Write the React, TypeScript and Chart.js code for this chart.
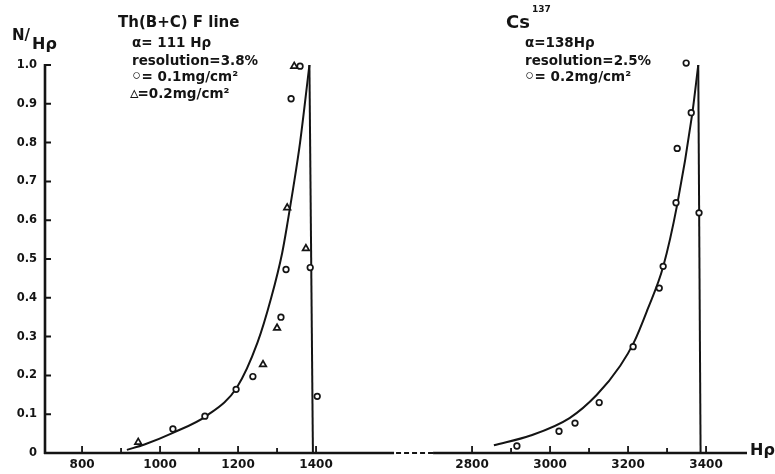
import { useEffect, useRef } from 'react';
import { Chart, registerables } from 'chart.js';

Chart.register(...registerables);

// ---- data (real Hρ values) ----
const thCurveH = [915, 960, 1033, 1121, 1197, 1250, 1285, 1313, 1328, 1341, 1359, 1383];
const thCurveN = [0.008, 0.022, 0.052, 0.097, 0.169, 0.285, 0.4, 0.515, 0.6, 0.68, 0.8, 1.0];
const thEdgeH = [1383, 1392];
const thEdgeN = [1.0, 0];
const thCircleH = [1033, 1115, 1195, 1238, 1310, 1323, 1336, 1359, 1385, 1403];
const thCircleN = [0.062, 0.095, 0.164, 0.197, 0.35, 0.473, 0.913, 0.997, 0.478, 0.146];
const thTriangleH = [944, 1264, 1300, 1326, 1374, 1344];
const thTriangleN = [0.028, 0.228, 0.322, 0.632, 0.527, 0.997];

const csCurveH = [2856, 2950, 3050, 3120, 3180, 3215, 3250, 3290, 3326, 3364, 3380];
const csCurveN = [0.02, 0.045, 0.09, 0.15, 0.225, 0.285, 0.37, 0.48, 0.64, 0.87, 1.0];
const csEdgeH = [3380, 3386];
const csEdgeN = [1.0, 0];
const csCircleH = [2915, 3023, 3064, 3126, 3213, 3280, 3290, 3323, 3326, 3362, 3349, 3382];
const csCircleN = [0.018, 0.056, 0.077, 0.13, 0.274, 0.425, 0.481, 0.645, 0.785, 0.877, 1.005, 0.619];

const xMajorTicks = [800, 1000, 1200, 1400, 2800, 3000, 3200, 3400];
const xMinorTicks = [900, 1100, 1300, 2900, 3100, 3300];
const xAxisStart = 705;
const xAxisEnd = 3505;
const breakFrom = 1600;
const breakTo = 2700;
const axisShift = 1000;

// [symbol, text]
const leftNotes = [['', 'α= 111 Hρ'], ['', 'resolution=3.8%'], ['◦', '= 0.1mg/cm²'], ['▵', '=0.2mg/cm²']];
const leftTitle = 'Th(B+C) F line';
const rightTitle = 'Cs';
const rightTitleSup = '137';
const rightNotes = [['', 'α=138Hρ'], ['', 'resolution=2.5%'], ['◦', '= 0.2mg/cm²']];
const yTitleA = 'N/';
const yTitleB = 'Hρ';
const xTitle = 'Hρ';

const INK = '#141414';
const FONT = '"DejaVu Sans", sans-serif';

const toAxis = (h: number) => (h > 2000 ? h - axisShift : h);
const fromAxis = (v: number) => (v > 1550 ? v + axisShift : v);
const pts = (hs: number[], ns: number[]) => hs.map((h, i) => ({ x: toAxis(h), y: ns[i] }));

function drawNote(ctx: any, note: string[], x: number, base: number) {
  let cx = x;
  if (note[0]) {
    const isCircle = note[0] === '◦';
    ctx.font = isCircle ? `bold 18px ${FONT}` : `bold 17px ${FONT}`;
    ctx.fillText(note[0], cx - (isCircle ? 1 : 2), base + (isCircle ? 1 : 0));
    cx += ctx.measureText(note[0]).width - (isCircle ? 2 : 3);
  }
  ctx.font = `bold 13.5px ${FONT}`;
  ctx.fillText(note[1], cx, base);
}

const decor = {
  id: 'decor',
  afterDraw(chart: any) {
    const { ctx } = chart;
    const x = chart.scales.x;
    const y = chart.scales.y;
    const y0 = y.getPixelForValue(0);
    const y1 = y.getPixelForValue(1);
    const xl = x.getPixelForValue(toAxis(xAxisStart));
    ctx.save();
    ctx.strokeStyle = INK;
    ctx.fillStyle = INK;
    ctx.lineCap = 'butt';

    // y axis
    ctx.lineWidth = 2.6;
    ctx.beginPath();
    ctx.moveTo(xl, y0 + 1);
    ctx.lineTo(xl, y1 - 1);
    ctx.stroke();
    ctx.lineWidth = 2;
    ctx.beginPath();
    for (const t of y.ticks) {
      if (t.value === 0) continue;
      const py = y.getPixelForValue(t.value);
      ctx.moveTo(xl, py);
      ctx.lineTo(xl + 6, py);
    }
    ctx.stroke();

    // x axis with break
    const pA = x.getPixelForValue(toAxis(xAxisStart));
    const pBs = x.getPixelForValue(toAxis(breakFrom));
    const pBe = x.getPixelForValue(toAxis(breakTo));
    const pE = x.getPixelForValue(toAxis(xAxisEnd));
    ctx.lineWidth = 2.6;
    ctx.beginPath();
    ctx.moveTo(pA - 1, y0);
    ctx.lineTo(pBs, y0);
    ctx.moveTo(pBe, y0);
    ctx.lineTo(pE, y0);
    ctx.stroke();
    ctx.setLineDash([5, 3]);
    ctx.lineWidth = 2.2;
    ctx.beginPath();
    ctx.moveTo(pBs + 2, y0);
    ctx.lineTo(pBe, y0);
    ctx.stroke();
    ctx.setLineDash([]);

    ctx.lineWidth = 1.8;
    ctx.beginPath();
    for (const v of xMajorTicks) {
      const px = x.getPixelForValue(toAxis(v));
      ctx.moveTo(px, y0);
      ctx.lineTo(px, y0 - 7);
    }
    for (const v of xMinorTicks) {
      const px = x.getPixelForValue(toAxis(v));
      ctx.moveTo(px, y0);
      ctx.lineTo(px, y0 - 5);
    }
    ctx.stroke();

    // texts
    ctx.textBaseline = 'alphabetic';
    ctx.textAlign = 'left';
    ctx.font = `bold 15px ${FONT}`;
    ctx.fillText(yTitleA, 12, 40);
    ctx.font = `bold 16px ${FONT}`;
    ctx.fillText(yTitleB, 32, 49);
    ctx.font = `bold 16px ${FONT}`;
    ctx.fillText(xTitle, 750, 455);

    ctx.font = `bold 15px ${FONT}`;
    ctx.fillText(leftTitle, 118, 27);
    const leftBase = [47, 65, 81, 98];
    leftNotes.forEach((n, i) => drawNote(ctx, n, 132, leftBase[i]));

    ctx.font = `bold 18px ${FONT}`;
    ctx.fillText(rightTitle, 506, 28);
    ctx.font = `bold 9px ${FONT}`;
    ctx.fillText(rightTitleSup, 532, 12);
    const rightBase = [47, 65, 81];
    rightNotes.forEach((n, i) => drawNote(ctx, n, 525, rightBase[i]));
    ctx.restore();
  },
};

export default function App() {
  const ref = useRef<HTMLCanvasElement | null>(null);
  useEffect(() => {
    if (!ref.current) return;
    const lineDs = (data: any[], mono: boolean) => ({
      type: 'line',
      data,
      borderColor: INK,
      borderWidth: 2,
      pointRadius: 0,
      fill: false,
      cubicInterpolationMode: mono ? 'monotone' : 'default',
      tension: 0,
      clip: false,
      order: 1,
    });
    const pointDs = (data: any[], style: string, r: number) => ({
      type: 'scatter',
      data,
      showLine: false,
      pointStyle: style,
      pointRadius: r,
      pointBorderWidth: 1.7,
      borderColor: INK,
      backgroundColor: '#ffffff',
      pointBackgroundColor: '#ffffff',
      pointBorderColor: INK,
      clip: false,
      order: 0,
    });
    const chart = new Chart(ref.current, {
      type: 'line',
      data: {
        datasets: [
          lineDs(pts(thCurveH, thCurveN), true),
          lineDs(pts(thEdgeH, thEdgeN), false),
          lineDs(pts(csCurveH, csCurveN), true),
          lineDs(pts(csEdgeH, csEdgeN), false),
          pointDs(pts(thCircleH, thCircleN), 'circle', 2.8),
          pointDs(pts(thTriangleH, thTriangleN), 'triangle', 3.8),
          pointDs(pts(csCircleH, csCircleN), 'circle', 2.8),
        ] as any,
      },
      options: {
        animation: false,
        responsive: false,
        devicePixelRatio: 1,
        layout: { padding: { left: 0, top: 65, right: 28, bottom: 0 } },
        plugins: { legend: { display: false }, tooltip: { enabled: false }, title: { display: false } },
        scales: {
          x: {
            type: 'linear',
            min: toAxis(xAxisStart),
            max: toAxis(xAxisEnd),
            grid: { display: false, drawTicks: false },
            border: { display: false },
            afterBuildTicks: (s: any) => {
              s.ticks = xMajorTicks.map((v) => ({ value: toAxis(v) }));
            },
            afterFit: (s: any) => {
              s.height = 21;
            },
            ticks: {
              autoSkip: false,
              maxRotation: 0,
              padding: 5,
              color: INK,
              font: { family: FONT, size: 12, weight: 'bold' },
              callback: (v: any) => String(fromAxis(Number(v))),
            },
          },
          y: {
            type: 'linear',
            min: 0,
            max: 1,
            grid: { display: false, drawTicks: false },
            border: { display: false },
            afterFit: (s: any) => {
              s.width = 45;
            },
            ticks: {
              stepSize: 0.1,
              padding: 8,
              color: INK,
              font: { family: FONT, size: 11.5, weight: 'bold' },
              callback: (v: any) => (Number(v) === 0 ? '0' : Number(v).toFixed(1)),
            },
          },
        },
      } as any,
      plugins: [decor],
    });
    return () => chart.destroy();
  }, []);
  return (
    <div style={{ position: 'absolute', left: 0, top: 0, width: 775, height: 474, background: '#fff' }}>
      <canvas ref={ref} width={775} height={474} />
    </div>
  );
}
